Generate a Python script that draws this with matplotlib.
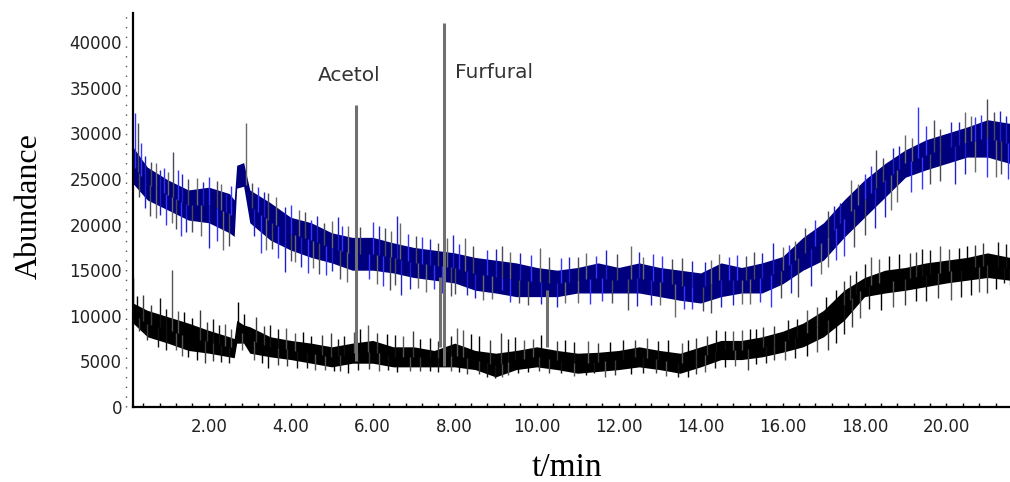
import matplotlib
matplotlib.use("Agg")
import matplotlib.pyplot as plt
import numpy as np

# ── Data (t in min, abundance) ───────────────────────────────────────────────

t_grid = [0.15, 0.5, 1.0, 1.5, 2.0, 2.5, 2.62, 2.68, 2.85, 3.0, 3.5, 4.0, 4.5,
          5.0, 5.5, 6.0, 6.5, 7.0, 7.5, 8.0, 8.5, 9.0, 9.5, 10.0, 10.5, 11.0,
          11.5, 12.0, 12.5, 13.0, 13.5, 14.0, 14.5, 15.0, 15.5, 16.0, 16.5,
          17.0, 17.5, 18.0, 18.5, 19.0, 19.5, 20.0, 20.5, 21.0, 21.55]

# upper trace (blue): dense band top / bottom
blue_hi = [28500, 26300, 24900, 23800, 24100, 23400, 22700, 26500, 26800, 23800,
           22400, 20800, 20200, 19100, 18600, 18600, 18000, 17500, 17200, 16900,
           16400, 16100, 15800, 15300, 15000, 15300, 15800, 15300, 15800, 15300,
           15000, 14700, 15800, 15300, 15800, 16500, 18600, 20200, 22700, 24900,
           26700, 28200, 29300, 30000, 30700, 31500, 31100]
blue_lo = [24500, 22700, 21600, 20500, 20200, 19100, 18700, 24000, 24200, 20200,
           18300, 17200, 16400, 15800, 15000, 15000, 14700, 14200, 13900, 13600,
           12800, 12500, 12100, 12100, 12100, 12500, 12500, 12500, 12500, 12100,
           11700, 11400, 12100, 12500, 12500, 13500, 15000, 16100, 18600, 20800,
           23000, 25200, 26000, 26700, 27400, 27400, 26700]

# lower trace (black)
black_hi = [11400, 10600, 9900, 9200, 8400, 7700, 7500, 9500, 9000, 8800,
            7700, 7300, 7000, 6600, 7000, 7300, 6600, 6600, 6200, 7000,
            6200, 5900, 6200, 6600, 6200, 5900, 6000, 6200, 6600, 6200,
            5900, 6600, 7300, 7300, 7700, 8300, 9200, 10600, 12800, 14200,
            15000, 15300, 15800, 16100, 16400, 16900, 16400]
black_lo = [9200, 7700, 7000, 6200, 5900, 5500, 5400, 7000, 7000, 5900,
            5500, 5200, 4800, 4400, 4800, 4800, 4400, 4400, 4400, 4400,
            4100, 3300, 4100, 4400, 4100, 3700, 3900, 4100, 4400, 4100,
            3700, 4400, 5200, 5200, 5500, 6000, 6600, 7700, 9500, 12100,
            12500, 12800, 13200, 13600, 13900, 14200, 13900]

# noise spikes sticking out of the bands (t, tip value)
blue_up_t = [0.2, 0.28, 0.45, 0.7, 0.9, 1.12, 1.35, 1.7, 2.0, 2.2, 2.43, 2.9,
             3.2, 3.45, 3.85, 4.2, 4.5, 4.8, 5.15, 5.4, 6.0, 6.3, 6.58, 6.66,
             7.2, 7.6, 7.96, 8.25, 8.8, 9.15, 9.6, 10.07, 10.6, 11.0, 11.7,
             12.31, 12.85, 13.3, 13.8, 14.46, 14.9, 15.3, 15.76, 16.3, 16.8,
             17.1, 17.4, 17.68, 18.0, 18.28, 18.7, 19.0, 19.3, 19.7, 20.1,
             20.44, 20.7, 20.99, 21.3]
blue_up_v = [32200, 31100, 27500, 26800, 26200, 28000, 25500, 25100, 25200,
             24800, 23400, 31100, 24100, 23500, 21900, 21600, 20500, 20200,
             20800, 19800, 20300, 19600, 20900, 20200, 18600, 18000, 18900,
             18500, 17200, 17600, 16900, 17400, 16300, 16500, 17200, 17600,
             16800, 16200, 16000, 16800, 16700, 17000, 18000, 18200, 20500,
             21500, 22400, 24900, 25600, 28200, 28400, 29800, 32900, 31500,
             31200, 32400, 31800, 33800, 32500]
blue_up2_t = [0.35, 0.6, 0.8, 1.0, 1.25, 1.5, 1.85, 2.3, 2.55, 3.05, 3.35, 3.65,
              4.0, 4.35, 4.65, 5.0, 5.25, 5.7, 6.15, 6.45, 6.85, 7.05, 7.4, 7.8,
              8.1, 8.45, 9.0, 9.35, 9.85, 10.3, 10.8, 11.2, 11.45, 11.95, 12.5,
              12.6, 13.05, 13.55, 14.1, 14.25, 14.7, 15.1, 15.5, 16.0, 16.15,
              16.55, 17.25, 17.85, 18.15, 18.45, 18.85, 19.15, 19.5, 19.85,
              20.3, 20.6, 20.85, 21.15, 21.45]
blue_up2_v = [29000, 26900, 26000, 25800, 26000, 25000, 24700, 24500, 24200,
              24600, 23600, 23000, 22200, 21400, 20900, 20400, 19900, 19700,
              19800, 19300, 19000, 18700, 18400, 18500, 17900, 17700, 17300,
              17000, 16700, 16500, 16400, 16900, 16600, 16800, 17000, 16400,
              16600, 16300, 15900, 16100, 16500, 16600, 16900, 17500, 17800,
              19600, 22000, 24500, 26400, 27300, 28600, 29500, 30800, 30500,
              31300, 31900, 32000, 32300, 31900]
blue_dn_t = [0.56, 0.8, 1.1, 1.33, 1.6, 2.0, 2.35, 3.28, 3.55, 3.86, 4.1, 4.42,
             4.7, 5.0, 5.36, 5.9, 6.41, 6.7, 7.1, 7.5, 8.0, 8.3, 8.69, 9.15,
             9.56, 10.5, 11.0, 11.6, 12.23, 12.8, 13.37, 13.8, 14.26, 14.8,
             15.2, 15.72, 16.37, 16.7, 17.1, 17.5, 18.0, 18.5, 18.8, 19.14,
             19.6, 20.2, 20.7, 21.0, 21.33]
blue_dn_v = [20900, 21000, 20200, 18700, 19200, 17400, 17200, 16900, 17300,
             14800, 15900, 14700, 14600, 14900, 13700, 14000, 12800, 12300,
             13000, 12900, 12400, 12300, 11700, 12800, 11400, 11000, 11400,
             11600, 10600, 11200, 9900, 10800, 10300, 11200, 11300, 11000,
             12100, 13300, 15400, 16600, 18900, 20800, 22500, 23600, 24500,
             24500, 25800, 25200, 25600]
blue_dn2_t = [0.3, 0.45, 0.7, 0.95, 1.2, 1.45, 1.8, 2.2, 2.5, 3.1, 3.4, 3.7, 4.0,
              4.25, 4.55, 4.85, 5.2, 5.6, 6.1, 6.25, 6.55, 6.9, 7.3, 7.7, 7.9,
              8.5, 8.9, 9.35, 9.8, 10.1, 10.7, 11.3, 11.85, 12.45, 13.0, 13.6,
              14.05, 14.5, 15.0, 15.45, 15.95, 16.2, 16.95, 17.3, 17.75, 18.25,
              18.65, 19.4, 19.85, 20.45, 21.2, 21.5]
blue_dn2_v = [23000, 21800, 20700, 20000, 19500, 19200, 18800, 18200, 17700,
              18700, 17200, 16300, 16000, 15400, 15200, 14500, 14000, 13800,
              13500, 13300, 13400, 12900, 12600, 12500, 12200, 11900, 11800,
              11500, 11200, 11300, 11400, 11300, 11400, 11100, 11200, 10800,
              10500, 11000, 11300, 11500, 11900, 12500, 14600, 16100, 17500,
              19600, 21600, 23900, 24800, 25500, 25200, 25000]

black_up_t = [0.15, 0.4, 0.8, 1.11, 1.4, 1.78, 2.1, 2.4, 2.71, 3.16, 3.5, 3.88,
              4.3, 4.99, 5.3, 5.89, 6.35, 6.98, 7.4, 8.2, 8.6, 9.12, 9.47, 9.9,
              10.7, 11.5, 12.1, 12.7, 13.2, 13.9, 14.38, 14.8, 15.2, 15.52,
              16.13, 16.6, 17.07, 17.5, 17.8, 18.16, 18.6, 19.1, 19.4, 19.83,
              20.3, 20.7, 21.25]
black_up_v = [14100, 12300, 11900, 15000, 10400, 10600, 9600, 9100, 11500, 9900,
              9000, 8700, 8200, 8100, 7800, 9000, 8000, 8300, 7600, 8400, 7800,
              8100, 7700, 7500, 7300, 7000, 7400, 7600, 7400, 7600, 8400, 8300,
              8500, 8800, 9500, 10600, 12100, 13800, 14900, 16500, 16600, 16900,
              17300, 17600, 17400, 17800, 18100]
black_up2_t = [0.25, 0.6, 0.95, 1.25, 1.6, 1.95, 2.25, 2.55, 2.85, 3.35, 3.7, 4.1,
               4.5, 4.75, 5.15, 5.55, 5.7, 6.1, 6.55, 6.75, 7.15, 7.6, 7.9, 8.05,
               8.4, 8.85, 9.3, 9.7, 10.1, 10.5, 10.9, 11.25, 11.8, 12.4, 12.95,
               13.55, 13.7, 14.15, 14.6, 15.0, 15.35, 15.8, 16.35, 16.85, 17.3,
               17.65, 18.0, 18.35, 18.85, 19.25, 19.6, 20.05, 20.5, 20.9, 21.45]
black_up2_v = [12200, 11200, 10700, 10500, 9800, 9300, 9000, 8600, 10200, 8900,
               8600, 8100, 7800, 7900, 7500, 8200, 8600, 8100, 7900, 7800, 7500,
               7200, 7800, 8700, 8000, 7300, 7500, 7300, 7900, 7200, 7100, 7200,
               7100, 7300, 7200, 7000, 7300, 7800, 8300, 8400, 8600, 8900, 9700,
               11000, 12800, 14500, 15700, 16200, 16800, 17000, 17200, 17300,
               17700, 18000, 17900]
black_dn_t = [0.3, 0.76, 1.2, 1.5, 1.9, 2.3, 3.1, 3.45, 3.9, 4.4, 4.83, 5.4, 5.9,
              6.38, 6.9, 7.4, 8.3, 8.98, 9.3, 9.8, 10.3, 11.4, 11.66, 12.3, 12.9,
              13.45, 14.1, 14.6, 15.15, 15.6, 16.05, 16.6, 17.1, 17.5, 17.9,
              18.4, 19.0, 19.5, 20.1, 20.6, 21.0, 21.4]
black_dn_v = [8300, 6600, 6300, 5500, 4800, 4900, 5200, 4300, 4500, 4300, 4100,
              3700, 4200, 4100, 3900, 3900, 3600, 3200, 3500, 3800, 3700, 3700,
              3300, 3600, 3700, 3300, 3800, 4400, 4100, 4800, 5200, 5600, 6200,
              8000, 9800, 10600, 11200, 11600, 11700, 12300, 12500, 13600]
black_dn2_t = [0.5, 0.95, 1.35, 1.7, 2.1, 2.5, 2.8, 3.3, 3.7, 4.15, 4.6, 5.05,
               5.2, 5.65, 6.15, 6.6, 7.15, 7.6, 7.9, 8.1, 8.6, 8.8, 9.15, 9.55,
               10.05, 10.6, 10.9, 11.2, 11.9, 12.6, 13.15, 13.7, 13.9, 14.35,
               14.85, 15.35, 15.8, 16.3, 16.85, 17.3, 17.7, 18.1, 18.7, 19.25,
               19.8, 20.35, 20.8, 21.2, 21.55]
black_dn2_v = [7400, 6300, 5600, 5200, 5000, 4800, 6200, 4800, 4600, 4300, 4100,
               4000, 3900, 4100, 4000, 3800, 3900, 3800, 4000, 3800, 3600, 3300,
               3300, 3700, 3900, 3700, 3400, 3500, 3500, 3700, 3400, 3300, 3600,
               4300, 4500, 4700, 5100, 5400, 6000, 7000, 8800, 10700, 11000,
               11600, 11900, 12100, 12600, 12900, 13400]

# labelled peaks
peak_names = ["Acetol", "Furfural", "", ""]
peak_t     = [5.58, 7.73, 7.64, 10.24]
peak_base  = [5000, 4500, 6600, 6600]
peak_top   = [33100, 42100, 14200, 12800]

y_ticks = [0, 5000, 10000, 15000, 20000, 25000, 30000, 35000, 40000]
x_ticks = [2, 4, 6, 8, 10, 12, 14, 16, 18, 20]

NAVY = "#00007f"
SPIKE_BLUE = ["#3535ff", "#4a4a5a", "#2020c8", "#6a6a6a"]
SPIKE_BLACK = ["#000000", "#3a3a3a", "#111111", "#555555"]

# ── Figure ────────────────────────────────────────────────────────────────────

fig = plt.figure(figsize=(10.1, 4.82), dpi=100)
ax = fig.add_axes([133 / 1010, 75 / 482, 877 / 1010, 394 / 482])

tg = np.array(t_grid)


def draw_spikes(ts, vs, mid, cols, up=True, lw=1.0):
    for i, (t, v) in enumerate(zip(ts, vs)):
        base = np.interp(t, tg, mid)
        lo, hi = (base, v) if up else (v, base)
        ax.vlines(t, lo, hi, color=cols[i % 4], lw=lw, zorder=3)


def draw_trace(lo, hi, ups, dns, core, cols):
    lo = np.array(lo)
    hi = np.array(hi)
    ax.fill_between(tg, lo, hi, color=core, lw=0, zorder=2)
    mid = (lo + hi) / 2
    for ts, vs in ups:
        draw_spikes(ts, vs, mid, cols, up=True)
    for ts, vs in dns:
        draw_spikes(ts, vs, mid, cols[1:] + cols[:1], up=False)


draw_trace(blue_lo, blue_hi,
           [(blue_up_t, blue_up_v), (blue_up2_t, blue_up2_v)],
           [(blue_dn_t, blue_dn_v), (blue_dn2_t, blue_dn2_v)],
           NAVY, SPIKE_BLUE)
draw_trace(black_lo, black_hi,
           [(black_up_t, black_up_v), (black_up2_t, black_up2_v)],
           [(black_dn_t, black_dn_v), (black_dn2_t, black_dn2_v)],
           "black", SPIKE_BLACK)

for t, b, top in zip(peak_t, peak_base, peak_top):
    ax.vlines(t, b, top, color="#707070", lw=2.2, zorder=4)

ax.text(peak_t[0] - 0.92, 36400, peak_names[0], fontsize=14.5, color="#333333",
        va="center", ha="left")
ax.text(peak_t[1] + 0.27, 36700, peak_names[1], fontsize=14.5, color="#333333",
        va="center", ha="left")

# ── Axes styling ──────────────────────────────────────────────────────────────

ax.set_xlim(0.15, 21.55)
ax.set_ylim(0, 43200)
for s in ("top", "right"):
    ax.spines[s].set_visible(False)
for s in ("left", "bottom"):
    ax.spines[s].set_linewidth(1.6)
    ax.spines[s].set_color("black")

ax.set_xticks(x_ticks)
ax.set_xticklabels([f"{v:.2f}" for v in x_ticks])
ax.set_xticks(np.arange(0.4, 21.5, 0.4), minor=True)
ax.tick_params(axis="x", which="both", direction="in", length=3, width=1,
               pad=8, labelsize=12, labelcolor="#222222")
ax.set_yticks(y_ticks)
ax.set_yticklabels([str(v) for v in y_ticks])
ax.tick_params(axis="y", which="both", length=0, pad=8, labelsize=12,
               labelcolor="#222222")

# dotted guide just left of the y-axis
ax.plot([-7 / 877, -7 / 877], [0, 1], transform=ax.transAxes, clip_on=False,
        color="#555555", lw=1.0, ls=(0, (1, 6)))

ax.set_ylabel("Abundance", family="Liberation Serif", fontsize=23, labelpad=12)
ax.yaxis.set_label_coords(-89 / 877, 0.51)
ax.set_xlabel("t/min", family="Liberation Serif", fontsize=24)
ax.xaxis.set_label_coords(0.495, -46 / 394)

fig.savefig("out.png", dpi=100)
